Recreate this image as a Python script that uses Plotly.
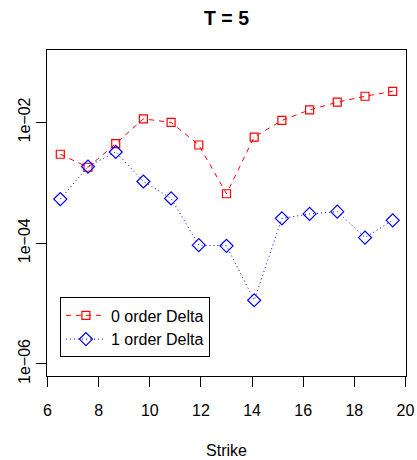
import plotly.graph_objects as go

strike = [6.5, 7.583, 8.667, 9.75, 10.833, 11.917, 13.0, 14.083, 15.167, 16.25, 17.333, 18.417, 19.5]
delta0 = [0.00297, 0.00181, 0.00445, 0.01148, 0.0100, 0.00423, 0.000659, 0.00573, 0.01079, 0.01618, 0.02163, 0.02716, 0.03281]
delta1 = [0.000538, 0.001858, 0.003243, 0.001052, 0.000552, 0.0000927, 0.0000904, 0.00001135, 0.000258, 0.000305, 0.000333, 0.000124, 0.000239]
ytick_vals = [1e-6, 1e-4, 1e-2]
ytick_text = ["1e−06", "1e−04", "1e−02"]
xtick_vals = [6, 8, 10, 12, 14, 16, 18, 20]

FONT = "Liberation Sans, Arial, sans-serif"

fig = go.Figure()
fig.add_trace(go.Scatter(
    x=strike, y=delta0, mode="lines+markers", name="0 order Delta",
    line=dict(color="red", width=1, dash="5px,5px"),
    marker=dict(symbol="square-open", size=8, color="red", line=dict(width=1.2)),
))
fig.add_trace(go.Scatter(
    x=strike, y=delta1, mode="lines+markers", name="1 order Delta",
    line=dict(color="blue", width=1, dash="1px,3px"),
    marker=dict(symbol="diamond-open", size=10, color="blue", line=dict(width=1.2)),
))

fig.update_layout(
    width=417, height=460,
    margin=dict(l=47, r=11, t=50, b=84),
    paper_bgcolor="white", plot_bgcolor="white",
    font=dict(family=FONT, size=16, color="black"),
    title=dict(text="<b>T = 5</b>", x=(47 + 406) / 2 / 417, xanchor="center",
               y=1 - 18 / 460, yanchor="middle", font=dict(size=19.5, family=FONT)),
    showlegend=True,
    legend=dict(x=0.036, y=0.057, xanchor="left", yanchor="bottom",
                bordercolor="black", borderwidth=1, bgcolor="white",
                font=dict(size=16, family=FONT), itemwidth=40, tracegroupgap=0),
)
fig.update_xaxes(
    range=[5.98, 20.02], tickvals=xtick_vals, ticks="outside", ticklen=10,
    tickcolor="black", showline=True, linecolor="black", linewidth=1, mirror=True,
    showgrid=False, zeroline=False, tickfont=dict(size=16), automargin=False,
    ticklabelstandoff=10,
    title=dict(text="Strike", font=dict(size=16), standoff=26),
)
fig.update_yaxes(
    type="log", range=[-6.2, -0.8], tickvals=ytick_vals, ticktext=ytick_text,
    tickangle=-90, ticks="outside", ticklen=10, tickcolor="black",
    showline=True, linecolor="black", linewidth=1, mirror=True,
    showgrid=False, zeroline=False, tickfont=dict(size=16), automargin=False,
)

fig.write_html("out.html")
